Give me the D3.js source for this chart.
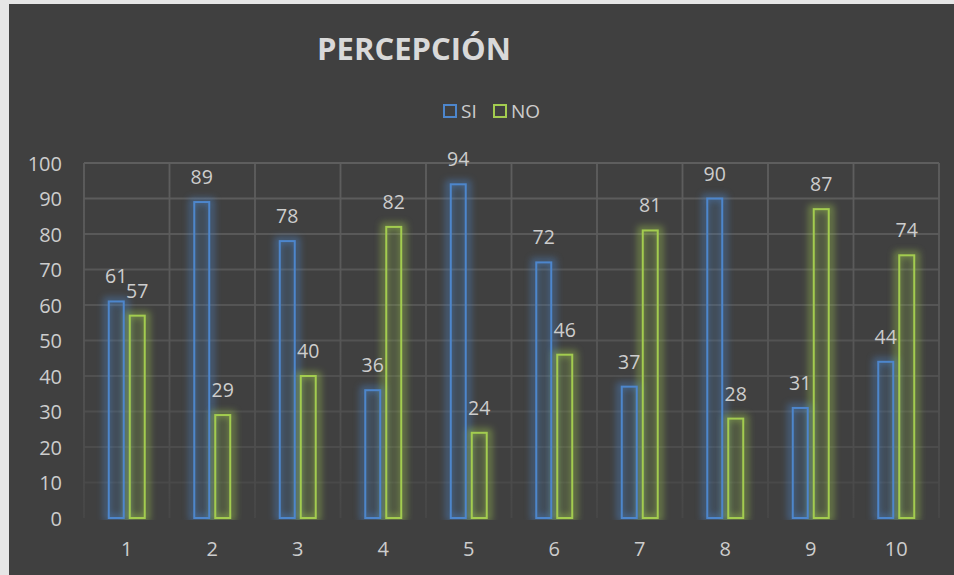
<!DOCTYPE html>
<html><head><meta charset="utf-8">
<script src="https://cdn.jsdelivr.net/npm/d3@7"></script>
<style>html,body{margin:0;padding:0;background:#fff;}svg{display:block;}</style>
</head><body>
<script>
const categories = ["1","2","3","4","5","6","7","8","9","10"];
const seriesNames = ["SI","NO"];
const siValues = [61,89,78,36,94,72,37,90,31,44];
const noValues = [57,29,40,82,24,46,81,28,87,74];
const yTicks = [0,10,20,30,40,50,60,70,80,90,100];
const title = "PERCEPCIÓN";

const W = 954, H = 575;
const colors = {SI: "#4d86cc", NO: "#a3cc4f"};
const fills = {SI: "rgba(77,134,204,0.16)", NO: "rgba(163,204,79,0.16)"};
const font = "'Open Sans', 'Noto Sans', sans-serif";
const textColor = "#cdcdcd";

const svg = d3.select("body").append("svg").attr("width", W).attr("height", H);
const defs = svg.append("defs");
const f = defs.append("filter").attr("id","glow").attr("x","-100%").attr("y","-20%").attr("width","300%").attr("height","140%");
f.append("feGaussianBlur").attr("stdDeviation", 3.5);
defs.append("clipPath").attr("id","clipBase").append("rect").attr("x",0).attr("y",0).attr("width",W).attr("height",520);

// outer frame
svg.append("rect").attr("width", W).attr("height", H).attr("fill", "#e6e6e6");
svg.append("rect").attr("x", 9).attr("y", 4).attr("width", W - 9).attr("height", H - 4).attr("fill", "#404040");

const plot = {left: 84, right: 939, top: 163, bottom: 518};
const x0 = d3.scaleBand().domain(categories).range([plot.left, plot.right]).paddingInner(0).paddingOuter(0);
const bw = x0.bandwidth();
const x1 = d3.scaleBand().domain(seriesNames).range([bw/2 - 19, bw/2 + 19]).paddingInner(0.19).paddingOuter(0);
const y = d3.scaleLinear().domain([0,100]).range([plot.bottom, plot.top]);

// gridlines
const grad = defs.append("linearGradient").attr("id","gridGrad").attr("gradientUnits","userSpaceOnUse")
  .attr("x1",0).attr("y1",plot.top).attr("x2",0).attr("y2",plot.bottom);
grad.append("stop").attr("offset","0%").attr("stop-color","#5e5e5e");
grad.append("stop").attr("offset","45%").attr("stop-color","#585858");
grad.append("stop").attr("offset","100%").attr("stop-color","#474747");

const grid = svg.append("g");
grid.selectAll("line.h").data(yTicks.filter(d => d !== 0)).join("line").attr("class","h")
  .attr("x1", plot.left).attr("x2", plot.right)
  .attr("y1", d => y(d)).attr("y2", d => y(d))
  .attr("stroke", d => d3.interpolateRgb("#474747", "#5e5e5e")(d/100)).attr("stroke-width", 1.8);
const vlines = categories.map(c => x0(c)).concat([plot.right]);
grid.selectAll("line.v").data(vlines).join("line").attr("class","v")
  .attr("x1", d => d).attr("x2", d => d)
  .attr("y1", plot.top).attr("y2", plot.bottom)
  .attr("stroke", "url(#gridGrad)").attr("stroke-width", 1.8);

// bars
const rows = categories.map((c,i) => ({cat: c, vals: [{s:"SI", v: siValues[i]}, {s:"NO", v: noValues[i]}]}));
const groups = svg.append("g").selectAll("g").data(rows).join("g")
  .attr("transform", d => `translate(${x0(d.cat)},0)`);

groups.selectAll("rect.glow").data(d => d.vals).join("rect").attr("class","glow")
  .attr("clip-path","url(#clipBase)")
  .attr("x", d => x1(d.s) - 1).attr("width", x1.bandwidth() + 2)
  .attr("y", d => y(d.v) - 1).attr("height", d => y(0) - y(d.v) + 1)
  .attr("fill", "none").attr("stroke", d => colors[d.s]).attr("stroke-width", 6)
  .attr("opacity", 0.5).attr("filter","url(#glow)");

groups.selectAll("rect.bar").data(d => d.vals).join("rect").attr("class","bar")
  .attr("x", d => x1(d.s) + 1).attr("width", x1.bandwidth() - 2)
  .attr("y", d => y(d.v)).attr("height", d => y(0) - y(d.v))
  .attr("fill", d => fills[d.s]).attr("stroke", d => colors[d.s]).attr("stroke-width", 2);

groups.selectAll("text.lbl").data(d => d.vals).join("text").attr("class","lbl")
  .attr("x", d => x1(d.s) + x1.bandwidth()/2).attr("y", d => y(d.v) - 18)
  .attr("text-anchor","middle").attr("font-family", font).attr("font-size", 19.5)
  .attr("fill", textColor).text(d => d.v);

// y axis
const yAxis = d3.axisLeft(y).tickValues(yTicks).tickSize(0).tickPadding(0);
const ya = svg.append("g").attr("transform", `translate(62,0)`).call(yAxis);
ya.select(".domain").remove();
ya.selectAll("text").attr("font-family", font).attr("font-size", 20).attr("fill", textColor).attr("dy","0.35em");

// x axis
const xAxis = d3.axisBottom(x0).tickSize(0).tickPadding(0);
const xa = svg.append("g").attr("transform", `translate(0,${plot.bottom})`).call(xAxis);
xa.select(".domain").remove();
xa.selectAll("text").attr("font-family", font).attr("font-size", 20).attr("fill", textColor)
  .attr("dy", null).attr("y", 38);

// title
svg.append("text").attr("x", 414).attr("y", 60).attr("text-anchor","middle")
  .attr("font-family", font).attr("font-weight", "bold").attr("font-size", 31)
  .attr("fill", "#d9d9d9").text(title);

// legend
const legendItems = [{s:"SI", x:443, tx:461}, {s:"NO", x:493, tx:511}];
const lg = svg.append("g");
lg.selectAll("rect").data(legendItems).join("rect")
  .attr("x", d => d.x + 1).attr("y", 105).attr("width", 12).attr("height", 12)
  .attr("fill","none").attr("stroke", d => colors[d.s]).attr("stroke-width", 2);
lg.selectAll("text").data(legendItems).join("text")
  .attr("x", d => d.tx).attr("y", 111).attr("dy","0.35em")
  .attr("font-family", font).attr("font-size", 19).attr("fill", textColor).text(d => d.s);
</script>
</body></html>
